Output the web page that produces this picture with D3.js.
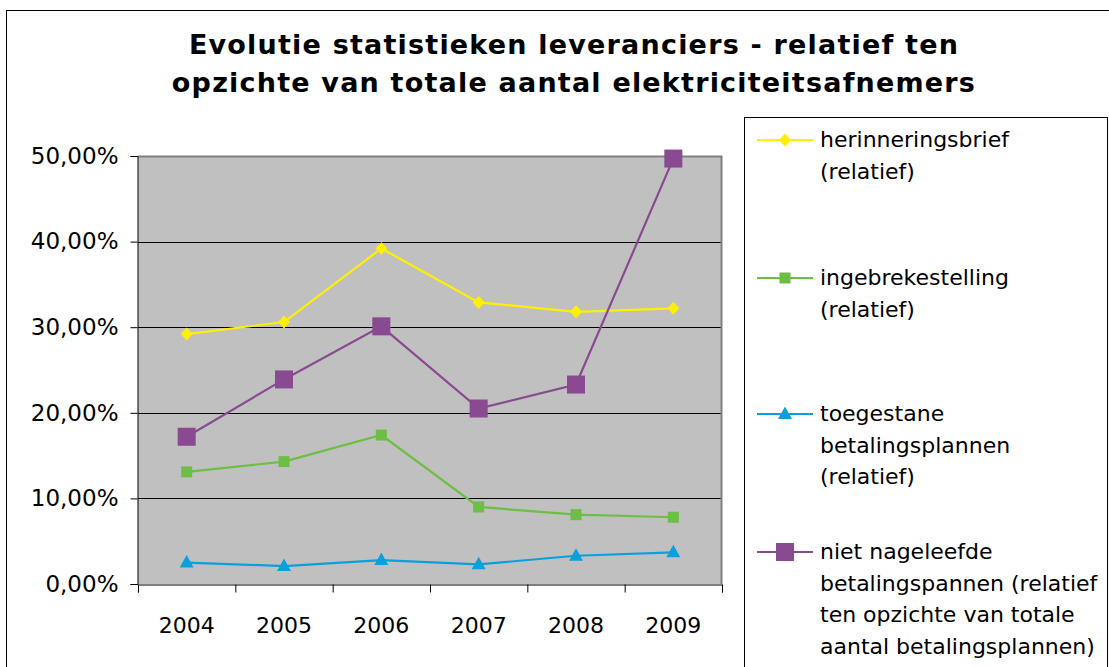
<!DOCTYPE html>
<html>
<head>
<meta charset="utf-8">
<script src="https://cdn.jsdelivr.net/npm/d3@7"></script>
<style>
  body { margin: 0; background: #fff; }
  svg { display: block; font-family: "DejaVu Sans", Verdana, sans-serif; }
</style>
</head>
<body>
<svg id="chart" width="1109" height="667"></svg>
<script>
// data
const years = ["2004", "2005", "2006", "2007", "2008", "2009"];
const herinnering = [0.292, 0.306, 0.392, 0.329, 0.318, 0.322];
const ingebreke = [0.131, 0.143, 0.174, 0.090, 0.081, 0.078];
const toegestaan = [0.025, 0.021, 0.028, 0.023, 0.033, 0.037];
const nietNageleefd = [0.172, 0.239, 0.301, 0.205, 0.233, 0.497];
const yTicks = [0, 0.1, 0.2, 0.3, 0.4, 0.5];
const titleLines = ["Evolutie statistieken leveranciers - relatief ten",
                    "opzichte van totale aantal elektriciteitsafnemers"];

const series = [
  { name: ["herinneringsbrief", "(relatief)"], values: herinnering, color: "#FFF000", shape: "diamond" },
  { name: ["ingebrekestelling", "(relatief)"], values: ingebreke, color: "#6DBE45", shape: "square" },
  { name: ["toegestane", "betalingsplannen", "(relatief)"], values: toegestaan, color: "#0AA0DE", shape: "triangle" },
  { name: ["niet nageleefde", "betalingspannen (relatief", "ten opzichte van totale", "aantal betalingsplannen)"],
    values: nietNageleefd, color: "#8A4A91", shape: "bigsquare" }
];

const svg = d3.select("#chart");
const plot = { left: 138, top: 156, right: 722, bottom: 584 };

// outer chart frame
svg.append("rect")
  .attr("x", 6.5).attr("y", 10.5).attr("width", 1120).attr("height", 680)
  .attr("fill", "#fff").attr("stroke", "#000").attr("stroke-width", 1);

// title
svg.append("g").selectAll("text").data(titleLines).join("text")
  .attr("x", 574).attr("y", (d, i) => 54 + i * 38)
  .attr("text-anchor", "middle")
  .attr("font-size", 27).attr("font-weight", "bold")
  .attr("letter-spacing", 1.2)
  .attr("fill", "#000")
  .text(d => d);

const x = d3.scaleBand().domain(years).range([plot.left, plot.right]);
const xEdge = d3.scaleLinear().domain([0, years.length]).range([plot.left, plot.right]);
const y = d3.scaleLinear().domain([0, 0.5]).range([plot.bottom, plot.top]);

// plot background
svg.append("rect")
  .attr("x", plot.left).attr("y", plot.top)
  .attr("width", plot.right - plot.left).attr("height", plot.bottom - plot.top)
  .attr("fill", "#C0C0C0");

// gridlines
svg.append("g").selectAll("line").data(yTicks.filter(v => v > 0 && v < 0.5)).join("line")
  .attr("x1", plot.left).attr("x2", plot.right)
  .attr("y1", d => Math.round(y(d)) + 0.5).attr("y2", d => Math.round(y(d)) + 0.5)
  .attr("stroke", "#000").attr("stroke-width", 1);

// gray border top / right
svg.append("path")
  .attr("d", `M${plot.left},${plot.top + 0.5}H${plot.right - 0.5}V${plot.bottom}`)
  .attr("fill", "none").attr("stroke", "#808080").attr("stroke-width", 2);

// axes
const fmt = v => d3.format(".2f")(v * 100).replace(".", ",") + "%";
const yAxis = svg.append("g")
  .attr("transform", `translate(${plot.left - 0.5},0)`)
  .call(d3.axisLeft(y).tickValues(yTicks).tickSize(7).tickPadding(12).tickFormat(fmt));
yAxis.selectAll("text").attr("font-size", 23).attr("font-family", "DejaVu Sans").attr("fill", "#000");

const xTicks = svg.append("g")
  .attr("transform", `translate(0,${plot.bottom + 0.5})`)
  .call(d3.axisBottom(xEdge).tickValues(d3.range(years.length + 1)).tickSize(8).tickFormat(""));
xTicks.select(".domain").attr("stroke", "#000");

const xLabels = svg.append("g")
  .attr("transform", `translate(0,${plot.bottom})`)
  .call(d3.axisBottom(x).tickSize(0).tickPadding(33));
xLabels.select(".domain").remove();
xLabels.selectAll("text").attr("font-size", 22).attr("font-family", "DejaVu Sans").attr("fill", "#000");

// markers
function drawMarker(g, shape, color) {
  if (shape === "diamond") {
    g.append("path").attr("d", "M0,-6.5L6,0L0,6.5L-6,0Z").attr("fill", color);
  } else if (shape === "square") {
    g.append("rect").attr("x", -5.5).attr("y", -5.5).attr("width", 11).attr("height", 11).attr("fill", color);
  } else if (shape === "bigsquare") {
    g.append("rect").attr("x", -9).attr("y", -9).attr("width", 18).attr("height", 18).attr("fill", color);
  } else if (shape === "triangle") {
    g.append("path").attr("d", "M0,-7.5L7,5L-7,5Z").attr("fill", color);
  }
}

const line = d3.line()
  .x((d, i) => x(years[i]) + x.bandwidth() / 2)
  .y(d => y(d));

series.forEach(s => {
  svg.append("path")
    .attr("d", line(s.values))
    .attr("fill", "none").attr("stroke", s.color).attr("stroke-width", 2.2);
  s.values.forEach((v, i) => {
    const g = svg.append("g")
      .attr("transform", `translate(${x(years[i]) + x.bandwidth() / 2},${y(v)})`);
    drawMarker(g, s.shape, s.color);
  });
});

// legend
const legendTop = [140, 278, 414, 552];
svg.append("rect")
  .attr("x", 744.5).attr("y", 117.5).attr("width", 363).attr("height", 600)
  .attr("fill", "#fff").attr("stroke", "#000").attr("stroke-width", 1);

series.forEach((s, k) => {
  const ly = legendTop[k];
  svg.append("line")
    .attr("x1", 757).attr("x2", 813).attr("y1", ly).attr("y2", ly)
    .attr("stroke", s.color).attr("stroke-width", 2);
  const g = svg.append("g").attr("transform", `translate(785,${ly})`);
  drawMarker(g, s.shape, s.color);
  svg.append("g").selectAll("text").data(s.name).join("text")
    .attr("x", 820).attr("y", (d, i) => ly + 7 + i * 31.5)
    .attr("font-size", 22).attr("fill", "#000")
    .text(d => d);
});
</script>
</body>
</html>
